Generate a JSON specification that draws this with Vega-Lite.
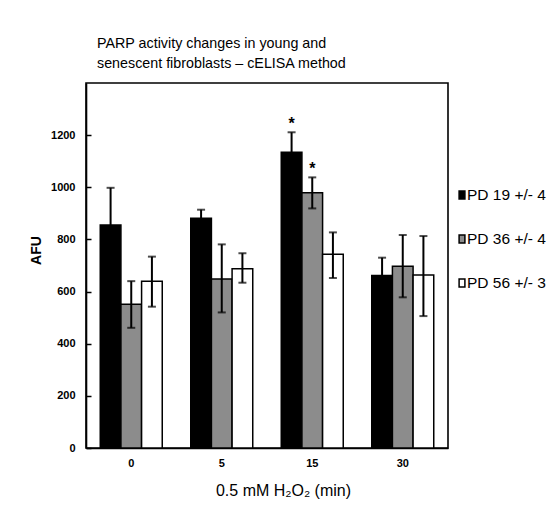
{
  "$schema": "https://vega.github.io/schema/vega-lite/v6.json",
  "autosize": {"type": "none"},
  "width": 362,
  "height": 365,
  "padding": {"left": 86, "top": 83, "right": 110, "bottom": 60},
  "background": "white",
  "config": {
    "font": "Liberation Sans",
    "view": {"stroke": "black", "strokeWidth": 1.6},
    "axis": {"domainColor": "black", "domainWidth": 1.6, "grid": false, "labelColor": "black", "titleColor": "black", "labelFont": "Liberation Sans", "titleFont": "Liberation Sans"}
  },
  "title": {
    "text": ["PARP activity changes in young and", "senescent fibroblasts – cELISA method"],
    "anchor": "start",
    "frame": "group",
    "dx": 11,
    "offset": -2,
    "baseline": "bottom",
    "lineHeight": 20,
    "fontSize": 14.3,
    "fontWeight": "normal",
    "font": "Liberation Sans",
    "color": "black"
  },
  "data": {
    "values": [
      {"t": "0", "series": "PD 19 +/- 4", "value": 855, "lo": 712, "hi": 998, "sig": ""},
      {"t": "0", "series": "PD 36 +/- 4", "value": 551, "lo": 461, "hi": 640, "sig": ""},
      {"t": "0", "series": "PD 56 +/- 3", "value": 640, "lo": 542, "hi": 734, "sig": ""},
      {"t": "5", "series": "PD 19 +/- 4", "value": 881, "lo": 848, "hi": 914, "sig": ""},
      {"t": "5", "series": "PD 36 +/- 4", "value": 648, "lo": 520, "hi": 781, "sig": ""},
      {"t": "5", "series": "PD 56 +/- 3", "value": 688, "lo": 634, "hi": 747, "sig": ""},
      {"t": "15", "series": "PD 19 +/- 4", "value": 1134, "lo": 1057, "hi": 1211, "sig": "*"},
      {"t": "15", "series": "PD 36 +/- 4", "value": 979, "lo": 919, "hi": 1038, "sig": "*"},
      {"t": "15", "series": "PD 56 +/- 3", "value": 743, "lo": 652, "hi": 827, "sig": ""},
      {"t": "30", "series": "PD 19 +/- 4", "value": 662, "lo": 594, "hi": 730, "sig": ""},
      {"t": "30", "series": "PD 36 +/- 4", "value": 697, "lo": 578, "hi": 817, "sig": ""},
      {"t": "30", "series": "PD 56 +/- 3", "value": 664, "lo": 506, "hi": 813, "sig": ""}
    ]
  },
  "encoding": {
    "x": {
      "field": "t", "type": "nominal", "sort": ["0", "5", "15", "30"],
      "scale": {"paddingInner": 0.315, "paddingOuter": 0.1575},
      "axis": {
        "title": "0.5 mM H₂O₂ (min)", "titleFontSize": 16, "titleFontWeight": "normal",
        "titleX": 197, "titleY": 42, "titleBaseline": "middle", "titleAlign": "center",
        "labelAngle": 0, "labelFontSize": 11, "labelFontWeight": "bold", "labelPadding": 9,
        "ticks": false
      }
    },
    "xOffset": {"field": "series", "type": "nominal", "scale": {"paddingInner": 0, "paddingOuter": 0}}
  },
  "layer": [
    {
      "mark": {"type": "bar", "stroke": "black", "strokeWidth": 1.5},
      "encoding": {
        "y": {
          "field": "value", "type": "quantitative",
          "scale": {"domain": [0, 1400], "nice": false},
          "axis": {
            "values": [0, 200, 400, 600, 800, 1000, 1200], "format": "d",
            "title": "AFU", "titleFontSize": 14, "titleFontWeight": "bold",
            "titleAngle": 270, "titleX": -50, "titleY": 167, "titleAlign": "center", "titleBaseline": "middle",
            "labelFontSize": 11, "labelFontWeight": "bold",
            "tickSize": -5, "tickColor": "black", "tickWidth": 1.5, "labelPadding": 16
          }
        },
        "fill": {
          "field": "series", "type": "nominal",
          "scale": {"domain": ["PD 19 +/- 4", "PD 36 +/- 4", "PD 56 +/- 3"], "range": ["black", "#8c8c8c", "white"]},
          "legend": {
            "title": null, "orient": "none", "legendX": 367, "legendY": 103,
            "symbolType": "M-0.36,-0.5H0.36V0.5H-0.36Z", "symbolSize": 260,
            "symbolStrokeColor": "black", "symbolStrokeWidth": 1.5,
            "labelFontSize": 15.5, "labelFont": "Liberation Sans", "labelColor": "black",
            "labelOffset": -4, "rowPadding": 26, "padding": 0
          }
        }
      }
    },
    {
      "mark": {"type": "rule", "color": "black", "strokeWidth": 2},
      "encoding": {
        "y": {"field": "lo", "type": "quantitative"},
        "y2": {"field": "hi"}
      }
    },
    {
      "mark": {"type": "tick", "orient": "horizontal", "color": "black", "size": 8, "thickness": 2},
      "encoding": {"y": {"field": "hi", "type": "quantitative"}}
    },
    {
      "mark": {"type": "tick", "orient": "horizontal", "color": "black", "size": 8, "thickness": 2},
      "encoding": {"y": {"field": "lo", "type": "quantitative"}}
    },
    {
      "mark": {"type": "text", "fontSize": 16, "fontWeight": "bold", "baseline": "alphabetic", "dy": -3, "color": "black"},
      "encoding": {
        "y": {"field": "hi", "type": "quantitative"},
        "text": {"field": "sig"}
      }
    }
  ]
}
